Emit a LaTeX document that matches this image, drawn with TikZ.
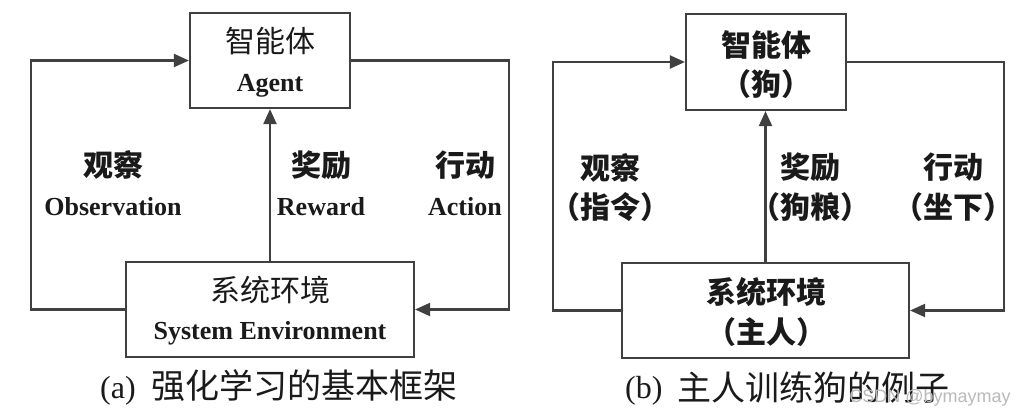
\documentclass[tikz,border=0pt]{standalone}
\usepackage{fontspec}
\setmainfont{Liberation Serif}
\newfontfamily\cjk{Noto Sans CJK SC}
\newfontfamily\wmfont{Liberation Sans}
\usetikzlibrary{arrows.meta}
\definecolor{lc}{HTML}{404040}
\definecolor{tc}{HTML}{1A1A1A}
\tikzset{
  box/.style={draw=lc, line width=2.2pt, inner sep=0pt},
  conn/.style={draw=lc, line width=2.1pt},
  arr/.style={conn, -{Triangle[length=15pt,width=13pt]}},
  cn/.style={inner sep=0pt, text=tc, font=\cjk\fontsize{30}{34}\selectfont},
  cnb/.style={inner sep=0pt, text=tc, font=\cjk\bfseries\fontsize{30}{34}\selectfont},
  en/.style={inner sep=0pt, anchor=base, text=tc, font=\bfseries\fontsize{26}{30}\selectfont},
  capcn/.style={inner sep=0pt, text=tc, font=\cjk\fontsize{34}{38}\selectfont},
  capen/.style={inner sep=0pt, anchor=base, text=tc, font=\fontsize{32}{36}\selectfont},
}
\begin{document}
\begin{tikzpicture}[x=1pt,y=-1pt]
\useasboundingbox[fill=white] (0,0) rectangle (1026,418);

% ---------- panel (a) ----------
\node[box, minimum width=160pt, minimum height=95pt] (agentA) at (270,60.5) {};
\node[box, minimum width=288pt, minimum height=95pt] (envA) at (270,309.5) {};
\coordinate (aL) at (31,0);
\coordinate (aR) at (509,0);
\draw[arr] (envA.west) -- (envA.west -| aL) |- (agentA.west);
\draw[arr] (agentA.east) -- (agentA.east -| aR) |- (envA.east);
\draw[arr] (envA.north) -- (agentA.south);

\node[cn] (agentAcn) at (270,41) {智能体};
\node[en] (agentAen) at (270,91) {Agent};
\node[cn] (envAcn) at (270,290) {系统环境};
\node[en] (envAen) at (270,339) {System Environment};

\node[cnb] (obsAcn) at (113,165) {观察};
\node[en] (obsAen) at (113,215) {Observation};
\node[cnb] (rewAcn) at (321,165) {奖励};
\node[en] (rewAen) at (321,215) {Reward};
\node[cnb] (actAcn) at (465,165) {行动};
\node[en] (actAen) at (465,215) {Action};

\node[capen, anchor=base west] (capAen) at (100,398) {(a)};
\node[capcn, anchor=west] (capAcn) at (151,386) {强化学习的基本框架};

% ---------- panel (b) ----------
\node[box, minimum width=160pt, minimum height=96pt] (agentB) at (766,62) {};
\node[box, minimum width=287pt, minimum height=95pt] (envB) at (765.5,310.5) {};
\coordinate (bL) at (553,0);
\coordinate (bR) at (1004,0);
\draw[arr] (envB.west) -- (envB.west -| bL) |- (agentB.west);
\draw[arr] (agentB.east) -- (agentB.east -| bR) |- (envB.east);
\draw[arr] (envB.north) -- (envB.north |- agentB.south);

\node[cnb] (agentBcn) at (766,44.5) {智能体};
\node[cnb] (agentBsub) at (766,84) {（狗）};
\node[cnb] (envBcn) at (766,292.5) {系统环境};
\node[cnb] (envBsub) at (766,332) {（主人）};

\node[cnb] (obsBcn) at (610,167.5) {观察};
\node[cnb] (obsBsub) at (610,207.5) {（指令）};
\node[cnb] (rewBcn) at (810,167.5) {奖励};
\node[cnb] (rewBsub) at (810,207.5) {（狗粮）};
\node[cnb] (actBcn) at (953,167.5) {行动};
\node[cnb] (actBsub) at (953,207.5) {（坐下）};

\node[capen, anchor=base west] (capBen) at (625,398) {(b)};
\node[capcn, anchor=west] (capBcn) at (677,387.5) {主人训练狗的例子};

\node[inner sep=0pt, text=gray!55, font=\wmfont\fontsize{18}{20}\selectfont] (wm) at (930,398) {CSDN @bymaymay};
\end{tikzpicture}
\end{document}
